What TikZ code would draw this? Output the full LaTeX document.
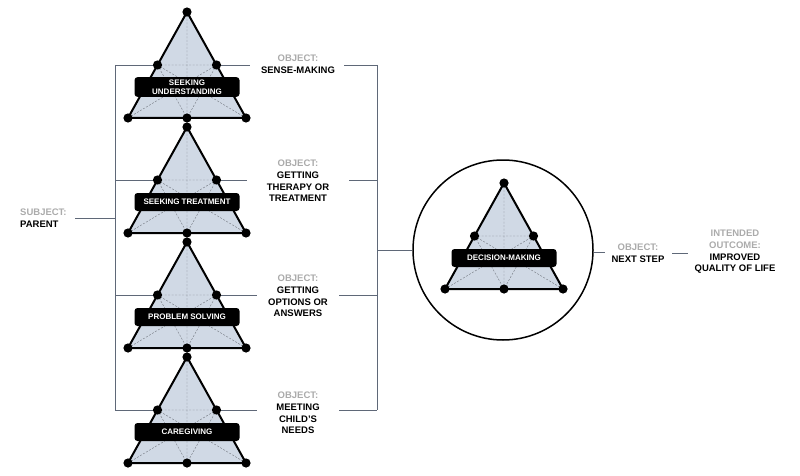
\documentclass[tikz,border=0pt]{standalone}
\usepackage{fontspec}
\setmainfont{Liberation Sans}
\definecolor{trifill}{HTML}{D0D9E5}
\definecolor{brk}{HTML}{5F6878}
\definecolor{graytxt}{HTML}{ABABAB}
\definecolor{dashgray}{HTML}{7A7F88}
\tikzset{
 trishade/.style={fill=trifill},
 innerline/.style={draw=dashgray, line width=0.45pt, dash pattern=on 2pt off 1.5pt},
 outerline/.style={draw=black, line width=2pt, line join=round},
 labelbox/.style={fill=black, rounded corners=3pt, text=white, font=\fontsize{8}{9}\selectfont\bfseries, minimum width=105pt, minimum height=18pt, inner xsep=2pt, inner ysep=2.5pt, align=center},
 bracket/.style={draw=brk, line width=0.8pt},
 objtext/.style={font=\fontsize{9.5}{11.7}\selectfont\bfseries, align=center, inner sep=0pt},
 ring/.style={circle, draw=black, line width=1.5pt, minimum size=180pt, inner sep=0pt},
}
\newcommand{\acttri}[4]{%
 \coordinate (#3t) at (#1,#2);
 \coordinate (#3l) at (#1-59,#2+106);
 \coordinate (#3r) at (#1+59,#2+106);
 \coordinate (#3b) at (#1,#2+106);
 \coordinate (#3ml) at (#1-29.5,#2+53);
 \coordinate (#3mr) at (#1+29.5,#2+53);
 \fill[trishade] (#3t)--(#3l)--(#3r)--cycle;
 \draw[innerline] (#3t)--(#3b) (#3ml)--(#3mr) (#3ml)--(#3b)--(#3mr) (#3l)--(#3mr) (#3r)--(#3ml);
 \draw[outerline] (#3t)--(#3l)--(#3r)--cycle;
 \foreach \p in {t,l,r,b,ml,mr} \fill (#3\p) circle (4.6);
 \node[labelbox] (#3box) at (#1,#2+75) {#4};
}
\begin{document}
\begin{tikzpicture}[x=1pt,y=-1pt]
\useasboundingbox (0,0) rectangle (800,476);
% bracket coordinates
\coordinate (L1) at (115,65);  \coordinate (R1) at (377,65);
\coordinate (L2) at (115,180); \coordinate (R2) at (377,180);
\coordinate (L3) at (115,295); \coordinate (R3) at (377,295);
\coordinate (L4) at (115,410); \coordinate (R4) at (377,410);
\coordinate (g1a) at (250,65);  \coordinate (g1b) at (344,65);
\coordinate (g2a) at (247,180); \coordinate (g2b) at (349,180);
\coordinate (g3a) at (257,295); \coordinate (g3b) at (339,295);
\coordinate (g4a) at (257,410); \coordinate (g4b) at (339,410);
\coordinate (S) at (75,218); \coordinate (Sm) at (115,218);
\coordinate (Rm) at (377,250);
\draw[bracket] (L1)--(g1a) (g1b)--(R1);
\draw[bracket] (L2)--(g2a) (g2b)--(R2);
\draw[bracket] (L3)--(g3a) (g3b)--(R3);
\draw[bracket] (L4)--(g4a) (g4b)--(R4);
\draw[bracket] (L1)--(L4) (R1)--(R4) (S)--(Sm);
% circle
\node[ring] (circ) at (503,250) {};
\draw[bracket] (Rm)--(circ.west);
% triangles
\acttri{187}{12}{a}{SEEKING\\UNDERSTANDING}
\acttri{187}{127}{b}{SEEKING TREATMENT}
\acttri{187}{242}{c}{PROBLEM SOLVING}
\acttri{187}{357}{e}{CAREGIVING}
\acttri{504}{183}{d}{DECISION-MAKING}
% texts
\node[objtext, anchor=west, align=left] (subj) at (20,218) {\textcolor{graytxt}{SUBJECT:}\\PARENT};
\node[objtext] (o1) at (298,64) {\textcolor{graytxt}{OBJECT:}\\SENSE-MAKING};
\node[objtext] (o2) at (298,181) {\textcolor{graytxt}{OBJECT:}\\GETTING\\THERAPY OR\\TREATMENT};
\node[objtext] (o3) at (298,296) {\textcolor{graytxt}{OBJECT:}\\GETTING\\OPTIONS OR\\ANSWERS};
\node[objtext] (o4) at (298,413) {\textcolor{graytxt}{OBJECT:}\\MEETING\\CHILD'S\\NEEDS};
\node[objtext] (o5) at (638,253) {\textcolor{graytxt}{OBJECT:}\\NEXT STEP};
\node[objtext] (out) at (735,252) {\textcolor{graytxt}{INTENDED}\\\textcolor{graytxt}{OUTCOME:}\\IMPROVED\\QUALITY OF LIFE};
\coordinate (n1) at (605,252);
\coordinate (n2) at (672,253); \coordinate (n3) at (688,253);
\draw[bracket] (circ.east |- n1)--(n1);
\draw[bracket] (n2)--(n3);
\end{tikzpicture}
\end{document}
